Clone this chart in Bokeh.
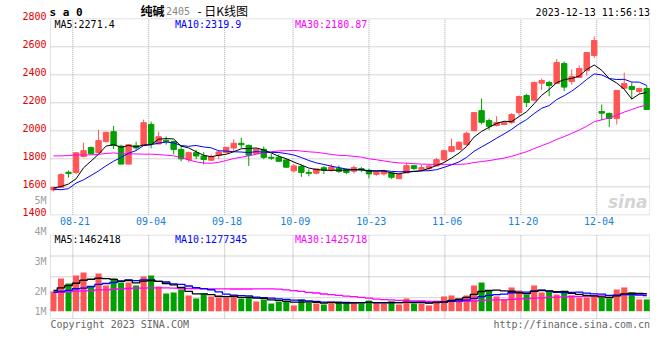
from bokeh.plotting import figure
from bokeh.models import Range1d, BoxAnnotation, ColumnDataSource
from bokeh.core.properties import value
from bokeh.embed import file_html
from bokeh.resources import INLINE

# ---------------- data ----------------
date_labels = ["08-21", "09-04", "09-18", "10-09", "10-23", "11-06", "11-20", "12-04"]
date_index = [3, 13, 23, 32, 42, 52, 62, 72]

open_ = [1578, 1596, 1704, 1702, 1816, 1880, 1844, 1923, 1994, 1890,
         1762, 1894, 1894, 2046, 1906, 1932, 1923, 1866, 1794, 1844,
         1820, 1790, 1825, 1845, 1877, 1911, 1896, 1837, 1868, 1811,
         1811, 1792, 1714, 1746, 1703, 1697, 1736, 1720, 1731, 1723,
         1711, 1730, 1718, 1688, 1692, 1699, 1658, 1699, 1751, 1725,
         1730, 1749, 1792, 1853, 1868, 1901, 2001, 2144, 2073, 2038,
         2045, 2059, 2131, 2252, 2219, 2340, 2345, 2338, 2481, 2352,
         2381, 2431, 2538, 2138, 2124, 2088, 2304, 2316, 2281, 2302]
high = [1601, 1697, 1716, 1845, 1915, 1888, 2008, 1993, 2035, 1901,
        1905, 1922, 2080, 2066, 1994, 1960, 1930, 1898, 1851, 1864,
        1848, 1832, 1861, 1885, 1939, 1951, 1901, 1875, 1889, 1834,
        1832, 1798, 1762, 1759, 1725, 1729, 1748, 1762, 1752, 1730,
        1751, 1740, 1728, 1713, 1722, 1704, 1694, 1771, 1752, 1756,
        1756, 1806, 1866, 1944, 1925, 1994, 2132, 2230, 2087, 2104,
        2066, 2126, 2252, 2264, 2352, 2373, 2357, 2512, 2495, 2438,
        2467, 2560, 2674, 2188, 2131, 2290, 2416, 2347, 2309, 2323]
low = [1568, 1594, 1665, 1690, 1810, 1830, 1840, 1915, 1870, 1760,
       1760, 1860, 1890, 1875, 1904, 1901, 1832, 1782, 1775, 1797,
       1760, 1788, 1797, 1840, 1855, 1877, 1749, 1836, 1797, 1792,
       1779, 1738, 1703, 1671, 1675, 1688, 1691, 1707, 1698, 1690,
       1695, 1705, 1661, 1680, 1680, 1657, 1656, 1699, 1718, 1710,
       1723, 1746, 1790, 1846, 1864, 1894, 1996, 2046, 2006, 2031,
       2040, 2050, 2107, 2169, 2211, 2290, 2247, 2335, 2283, 2328,
       2378, 2395, 2521, 2074, 2026, 2045, 2295, 2224, 2266, 2152]
close = [1596, 1687, 1695, 1843, 1858, 1836, 1930, 1989, 1895, 1762,
         1901, 1878, 2058, 1906, 1958, 1921, 1866, 1800, 1844, 1820,
         1795, 1816, 1849, 1882, 1911, 1900, 1826, 1868, 1810, 1804,
         1782, 1740, 1749, 1703, 1696, 1728, 1718, 1741, 1710, 1702,
         1737, 1722, 1692, 1704, 1709, 1668, 1687, 1751, 1731, 1737,
         1749, 1794, 1858, 1887, 1918, 1982, 2130, 2061, 2032, 2059,
         2059, 2116, 2245, 2202, 2345, 2359, 2324, 2488, 2312, 2388,
         2445, 2559, 2645, 2126, 2088, 2288, 2338, 2295, 2302, 2152]
volume = [1640000, 2730000, 2310000, 2980000, 3230000, 2060000, 3140000, 2140000, 2730000, 2390000,
          2390000, 2140000, 2890000, 2980000, 2060000, 1480000, 1560000, 1810000, 1310000, 1060000,
          1480000, 1230000, 1140000, 1140000, 1230000, 1060000, 1230000, 810000, 980000, 640000,
          810000, 890000, 480000, 980000, 730000, 640000, 560000, 730000, 810000, 640000,
          730000, 640000, 890000, 640000, 640000, 810000, 560000, 1060000, 640000, 640000,
          480000, 890000, 1230000, 1310000, 1060000, 1310000, 2140000, 2390000, 1730000, 1230000,
          980000, 1980000, 1730000, 1390000, 2140000, 1560000, 1640000, 1390000, 1560000, 1310000,
          1140000, 1140000, 1230000, 1140000, 1060000, 1810000, 1980000, 1560000, 980000, 980000]

# moving-average values visible before each window is full
ma5_head = [1591, 1602, 1620, 1657]
ma10_head = [1583, 1579, 1587, 1626, 1650, 1681, 1713, 1750, 1783]
ma30_head = [1821, 1821, 1823, 1828, 1828, 1828, 1832, 1838, 1842, 1836,
             1835, 1835, 1833, 1833, 1830, 1826, 1821, 1809, 1792, 1778,
             1770, 1768, 1775, 1788, 1802, 1811, 1821, 1833, 1842]
vma5_head = [1730000, 1950000, 2140000, 2330000]
vma10_head = [1580000, 1640000, 1730000, 1870000, 1920000, 2060000, 2230000, 2310000, 2390000]
vma30_head = [1580000, 1580000, 1620000, 1670000, 1690000, 1720000, 1780000, 1780000, 1830000, 1860000,
              1890000, 1920000, 1920000, 1940000, 1940000, 1940000, 1920000, 1890000, 1890000, 1890000,
              1860000, 1860000, 1860000, 1860000, 1850000, 1850000, 1850000, 1860000, 1860000]

price_ticks = [2800, 2600, 2400, 2200, 2000, 1800, 1600, 1400]
price_tick_labels = ["2800", "2600", "2400", "2200", "2000", "1800", "1600", "1400"]
vol_tick_labels = ["5M", "4M", "3M", "2M", "1M"]

ma_texts = ["MA5:2271.4", "MA10:2319.9", "MA30:2180.87"]
vma_texts = ["MA5:1462418", "MA10:1277345", "MA30:1425718"]
title_name = "纯碱"
title_code = "2405"
title_rest = "-  日K线图"
symbol_text = "s a 0"
stamp_text = "2023-12-13 11:56:13"
copyright_text = "Copyright 2023 SINA.COM"
url_text = "http://finance.sina.com.cn"


def rolling(vals, n, head):
    out = list(head)
    for i in range(len(head), len(vals)):
        out.append(sum(vals[i - n + 1:i + 1]) / n)
    return out


ma5 = rolling(close, 5, ma5_head)
ma10 = rolling(close, 10, ma10_head)
ma30 = rolling(close, 30, ma30_head)
vma5 = rolling(volume, 5, vma5_head)
vma10 = rolling(volume, 10, vma10_head)
vma30 = rolling(volume, 30, vma30_head)

# ---------------- layout helpers (reference pixel -> data units) ----------------
STEP = 7.51      # px per candle
X0 = 53.0        # px of first candle centre
W, H = 650, 340


def X(px):
    return (px - X0) / STEP


def Y(py):
    return 2000 + (130.3 - py) * 200.0 / 28.0


def V(py):
    return (310.7 - py) * 1e6 / 12.0


UP = "#ff5555"
DOWN = "#00a000"
GRID = "#a8a8a8"
FRAME = "#a0a0a0"
MONO = value("DejaVu Sans Mono")

p = figure(width=W, height=H,
           x_range=Range1d(X(0), X(W)), y_range=Range1d(Y(H), Y(0)),
           output_backend="svg", toolbar_location=None,
           x_axis_location=None, y_axis_location=None,
           min_border=0, outline_line_color=None)
p.extra_y_ranges = {"vol": Range1d(V(H), V(0))}
p.grid.visible = False
p.background_fill_color = "white"
p.border_fill_color = "white"

L, R = X(50), X(649.3)
VT, VB = V(234.7), V(318)

# grid lines
grid_x = [2.57 + (i - 3) * 1.0112 for i in date_index]
hp = [t for t in price_ticks if 1400 < t < 2800]
p.segment(x0=[L] * len(hp), x1=[R] * len(hp), y0=hp, y1=hp,
          line_color=GRID, line_dash="1 1", line_width=1)
p.segment(x0=grid_x, x1=grid_x, y0=[1400] * len(grid_x), y1=[2800] * len(grid_x),
          line_color=GRID, line_dash="1 1", line_width=1)
p.segment(x0=grid_x, x1=grid_x, y0=[VB] * len(grid_x), y1=[VT] * len(grid_x),
          line_color=GRID, line_dash="1 1", line_width=1, y_range_name="vol")
vh = [V(255.5), V(276.3), V(297.2)]
p.segment(x0=[L] * 3, x1=[R] * 3, y0=vh, y1=vh,
          line_color=GRID, line_dash="1 1", line_width=1, y_range_name="vol")

# candles
idx = list(range(len(close)))
cols = [UP if c >= o else DOWN for o, c in zip(open_, close)]
src = ColumnDataSource(dict(x=idx, h=high, l=low, col=cols, vol=volume,
                            top=[max(o, c) for o, c in zip(open_, close)],
                            bot=[min(o, c) for o, c in zip(open_, close)]))
p.segment(x0="x", x1="x", y0="l", y1="h", line_color="col", line_width=1, source=src)
p.vbar(x="x", width=0.72, top="top", bottom="bot", fill_color="col", line_color="col",
       line_width=1, source=src)
p.line(idx, ma30, line_color="#ff00ff", line_width=1)
p.line(idx, ma10, line_color="#0000ff", line_width=1)
p.line(idx, ma5, line_color="#000000", line_width=1)

# volume
p.vbar(x="x", width=0.8, top="vol", bottom=0, fill_color="col", line_color=None,
       source=src, y_range_name="vol")
p.step(idx, vma30, mode="center", line_color="#ff00ff", line_width=1.3, y_range_name="vol")
p.step(idx, vma10, mode="center", line_color="#0000ff", line_width=1.3, y_range_name="vol")
p.step(idx, vma5, mode="center", line_color="#000000", line_width=1.3, y_range_name="vol")

# frames
p.add_layout(BoxAnnotation(left=L, right=R, bottom=1400, top=2800, fill_alpha=0,
                           line_color=FRAME, line_width=1))
p.add_layout(BoxAnnotation(left=L, right=R, bottom=VB, top=VT, fill_alpha=0,
                           line_color=FRAME, line_width=1, y_range_name="vol"))

# texts
p.text(x=[X(46)] * len(price_ticks), y=price_ticks, text=price_tick_labels,
       text_font=MONO, text_font_size="10px", text_color="#e00000",
       text_align="right", text_baseline="middle", y_offset=-2.5)
p.text(x=[X(46)] * 5, y=[Y(200), Y(230.7), Y(260.7), Y(290.7), Y(310.7)], text=vol_tick_labels,
       text_font=MONO, text_font_size="10px", text_color="#a0a0a0",
       text_align="right", text_baseline="middle")
p.text(x=[g + 0.3 for g in grid_x], y=[Y(220)] * len(grid_x), text=date_labels,
       text_font=MONO, text_font_size="10px", text_color="#1a7fd8",
       text_align="center", text_baseline="middle")
p.text(x=[X(54), X(174.5), X(294.5)], y=[Y(24)] * 3, text=ma_texts,
       text_font=MONO, text_font_size="10px", text_color=["#000000", "#0000ff", "#ff00ff"],
       text_align="left", text_baseline="middle")
p.text(x=[X(54), X(174.5), X(294.5)], y=[V(238.5)] * 3, text=vma_texts,
       text_font=MONO, text_font_size="10px", text_color=["#000000", "#0000ff", "#ff00ff"],
       text_align="left", text_baseline="middle", y_range_name="vol")
p.text(x=[X(49)], y=[Y(11.5)], text=[symbol_text], text_font=MONO, text_font_size="11px",
       text_font_style="bold", text_color="#000000", text_align="left", text_baseline="middle")
p.text(x=[X(140)], y=[Y(10)], text=[title_name], text_font=value("Noto Sans CJK SC"),
       text_font_size="12px", text_font_style="bold", text_color="#000000",
       text_align="left", text_baseline="middle")
p.text(x=[X(165.5)], y=[Y(10.5)], text=[title_code], text_font=MONO, text_font_size="10px",
       text_color="#888888", text_align="left", text_baseline="middle")
p.text(x=[X(197)], y=[Y(10)], text=[title_rest], text_font=value("Noto Sans CJK SC"),
       text_font_size="12px", text_color="#000000", text_align="left", text_baseline="middle")
p.text(x=[X(649.5)], y=[Y(11.5)], text=[stamp_text], text_font=MONO, text_font_size="10px",
       text_color="#000000", text_align="right", text_baseline="middle")
p.text(x=[X(50)], y=[V(323.5)], text=[copyright_text], text_font=MONO, text_font_size="10px",
       text_color="#666666", text_align="left", text_baseline="middle", y_range_name="vol")
p.text(x=[X(649.5)], y=[V(323.5)], text=[url_text], text_font=MONO, text_font_size="10px",
       text_color="#666666", text_align="right", text_baseline="middle", y_range_name="vol")
p.text(x=[X(647)], y=[Y(201)], text=["sina"], text_font=value("DejaVu Sans"),
       text_font_size="17px", text_font_style="bold italic", text_color="#d4d4d4",
       text_align="right", text_baseline="middle")

open("out.html", "w").write(file_html(p, INLINE))
